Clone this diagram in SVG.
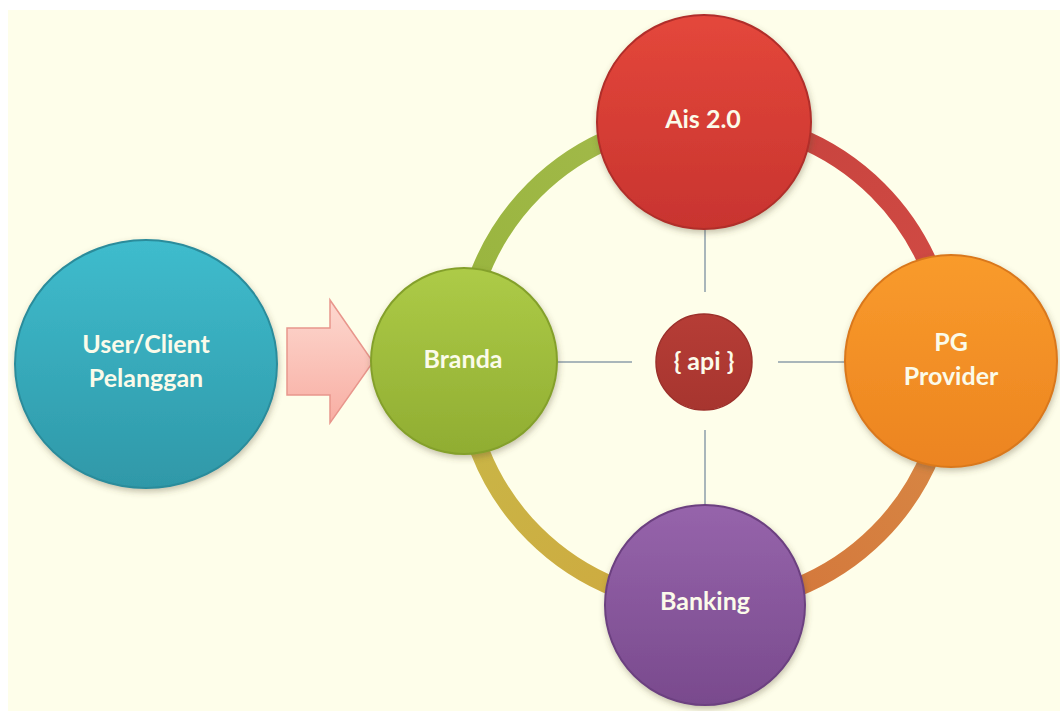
<svg xmlns="http://www.w3.org/2000/svg" width="1060" height="711" viewBox="0 0 1060 711">
  <defs>
    <style>
      .lbl { font-family: Lato, "Liberation Sans", sans-serif; font-weight: bold; font-size: 25px; fill: #fbfbea; text-anchor: middle; }
      .spoke { stroke: #a9b6ba; stroke-width: 2; fill: none; }
      .ring { fill: none; stroke-width: 19; }
    </style>
    <filter id="sh" x="-20%" y="-20%" width="140%" height="140%">
      <feDropShadow dx="1" dy="3" stdDeviation="3" flood-color="#5a5030" flood-opacity="0.35"/>
    </filter>
    <linearGradient id="gUser" x1="0" y1="0" x2="0" y2="1">
      <stop offset="0" stop-color="#3fbccd"/>
      <stop offset="1" stop-color="#2f98a8"/>
    </linearGradient>
    <linearGradient id="gBranda" x1="0" y1="0" x2="0" y2="1">
      <stop offset="0" stop-color="#adcb47"/>
      <stop offset="1" stop-color="#90ad32"/>
    </linearGradient>
    <linearGradient id="gAis" x1="0" y1="0" x2="0" y2="1">
      <stop offset="0" stop-color="#e4473b"/>
      <stop offset="1" stop-color="#c8342f"/>
    </linearGradient>
    <linearGradient id="gPG" x1="0" y1="0" x2="0" y2="1">
      <stop offset="0" stop-color="#f99b2c"/>
      <stop offset="1" stop-color="#ec8420"/>
    </linearGradient>
    <linearGradient id="gBank" x1="0" y1="0" x2="0" y2="1">
      <stop offset="0" stop-color="#9664ab"/>
      <stop offset="1" stop-color="#794a8d"/>
    </linearGradient>
    <linearGradient id="gApi" x1="0" y1="0" x2="0" y2="1">
      <stop offset="0" stop-color="#b63d36"/>
      <stop offset="1" stop-color="#a7352f"/>
    </linearGradient>
    <linearGradient id="gArrow" x1="0" y1="0" x2="0" y2="1">
      <stop offset="0" stop-color="#fdd8cf"/>
      <stop offset="1" stop-color="#f8aea3"/>
    </linearGradient>
    <linearGradient id="rTL" gradientUnits="userSpaceOnUse" x1="463" y1="362" x2="706" y2="119">
      <stop offset="0" stop-color="#97b43c"/>
      <stop offset="1" stop-color="#a4ba4c"/>
    </linearGradient>
    <linearGradient id="rTR" gradientUnits="userSpaceOnUse" x1="706" y1="119" x2="949" y2="362">
      <stop offset="0" stop-color="#c6423d"/>
      <stop offset="1" stop-color="#d24c45"/>
    </linearGradient>
    <linearGradient id="rBR" gradientUnits="userSpaceOnUse" x1="949" y1="362" x2="706" y2="605">
      <stop offset="0" stop-color="#d88a45"/>
      <stop offset="1" stop-color="#d3743a"/>
    </linearGradient>
    <linearGradient id="rBL" gradientUnits="userSpaceOnUse" x1="706" y1="605" x2="463" y2="362">
      <stop offset="0" stop-color="#cfa83e"/>
      <stop offset="1" stop-color="#c8b848"/>
    </linearGradient>
  </defs>

  <rect x="0" y="0" width="1060" height="711" fill="#ffffff"/>
  <rect x="8" y="10" width="1052" height="701" fill="#fefeea"/>

  <g id="connectors">
    <path class="ring" stroke="url(#rTL)" d="M463,362 A243,243 0 0 1 706,119"/>
    <path class="ring" stroke="url(#rTR)" d="M706,119 A243,243 0 0 1 949,362"/>
    <path class="ring" stroke="url(#rBR)" d="M949,362 A243,243 0 0 1 706,605"/>
    <path class="ring" stroke="url(#rBL)" d="M706,605 A243,243 0 0 1 463,362"/>
    <line class="spoke" x1="705" y1="225" x2="705" y2="292"/>
    <line class="spoke" x1="705" y1="430" x2="705" y2="505"/>
    <line class="spoke" x1="552" y1="362" x2="632" y2="362"/>
    <line class="spoke" x1="778" y1="362" x2="848" y2="362"/>
    <path id="arrow" d="M287,328 L330,328 L330,300 L373,362 L330,423 L330,395 L287,395 Z" fill="url(#gArrow)" stroke="#e8968c" stroke-width="1.5" stroke-linejoin="miter"/>
  </g>

  <g id="node-user">
    <ellipse cx="146" cy="364" rx="131" ry="124" fill="url(#gUser)" stroke="#2b8c9b" stroke-width="2" filter="url(#sh)"/>
    <text class="lbl" x="146" y="353">User/Client</text>
    <text class="lbl" x="146" y="387">Pelanggan</text>
  </g>

  <g id="node-branda">
    <circle cx="464" cy="361" r="93" fill="url(#gBranda)" stroke="#84a02c" stroke-width="2" filter="url(#sh)"/>
    <text class="lbl" x="463" y="368">Branda</text>
  </g>

  <g id="node-ais">
    <circle cx="704" cy="122" r="107" fill="url(#gAis)" stroke="#b02e2a" stroke-width="2" filter="url(#sh)"/>
    <text class="lbl" x="703" y="128">Ais 2.0</text>
  </g>

  <g id="node-pg">
    <circle cx="951" cy="361" r="106" fill="url(#gPG)" stroke="#d9781c" stroke-width="2" filter="url(#sh)"/>
    <text class="lbl" x="951" y="351">PG</text>
    <text class="lbl" x="951" y="385">Provider</text>
  </g>

  <g id="node-banking">
    <circle cx="705" cy="605" r="100" fill="url(#gBank)" stroke="#6c4080" stroke-width="2" filter="url(#sh)"/>
    <text class="lbl" x="705" y="610">Banking</text>
  </g>

  <g id="node-api">
    <circle cx="704" cy="362" r="48" fill="url(#gApi)" stroke="#9c302b" stroke-width="1.5"/>
    <text class="lbl" x="704" y="370">{ api }</text>
  </g>
</svg>
